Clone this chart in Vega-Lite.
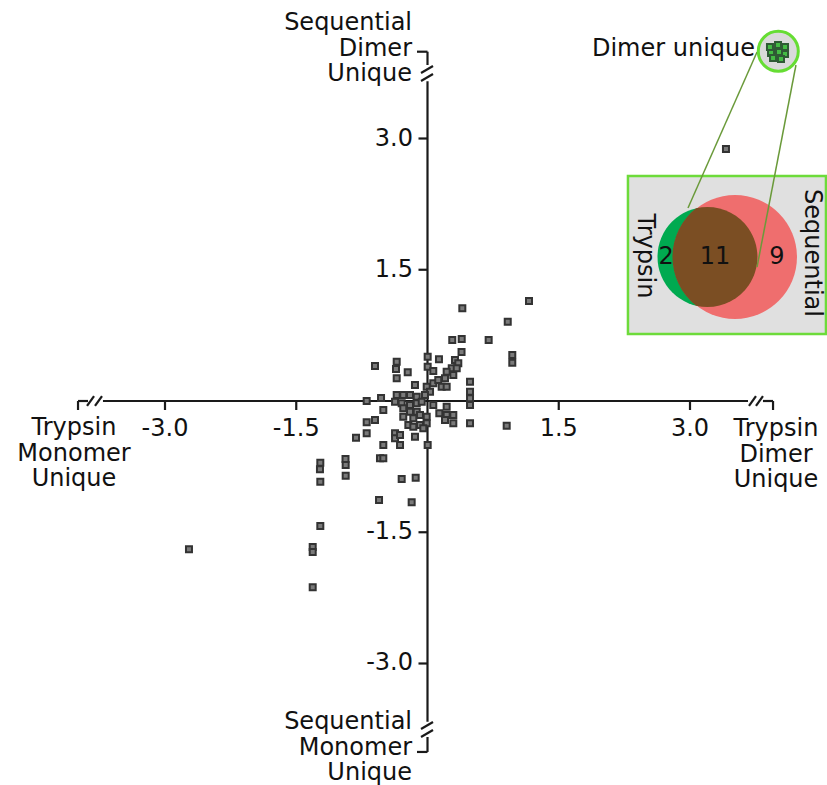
{
  "$schema": "https://vega.github.io/schema/vega-lite/v6.json",
  "width": 827,
  "height": 785,
  "padding": 0,
  "autosize": {"type": "none"},
  "config": {"view": {"stroke": null}, "font": "DejaVu Sans"},
  "datasets": {
    "axes": [
      {"x": -3.709, "y": 0, "x2": 3.663, "y2": 0},
      {"x": -3.994, "y": 0, "x2": -3.88, "y2": 0},
      {"x": -3.994, "y": 0, "x2": -3.994, "y2": -0.103},
      {"x": -3.891, "y": -0.057, "x2": -3.811, "y2": 0.057},
      {"x": -3.8, "y": -0.057, "x2": -3.72, "y2": 0.057},
      {"x": 3.674, "y": -0.057, "x2": 3.754, "y2": 0.057},
      {"x": 3.754, "y": -0.057, "x2": 3.834, "y2": 0.057},
      {"x": 3.834, "y": 0, "x2": 3.949, "y2": 0},
      {"x": 3.949, "y": 0, "x2": 3.949, "y2": -0.103},
      {"x": 0, "y": 3.655, "x2": 0, "y2": -3.665},
      {"x": 0, "y": 3.84, "x2": 0, "y2": 3.992},
      {"x": -0.12, "y": 3.992, "x2": 0, "y2": 3.992},
      {"x": -0.074, "y": 3.749, "x2": 0.063, "y2": 3.829},
      {"x": -0.074, "y": 3.657, "x2": 0.063, "y2": 3.737},
      {"x": -0.074, "y": -3.749, "x2": 0.063, "y2": -3.669},
      {"x": -0.074, "y": -3.84, "x2": 0.063, "y2": -3.76},
      {"x": 0, "y": -3.84, "x2": 0, "y2": -4.011},
      {"x": -0.12, "y": -4.011, "x2": 0, "y2": -4.011},
      {"x": -3, "y": 0, "x2": -3, "y2": -0.103},
      {"x": -1.5, "y": 0, "x2": -1.5, "y2": -0.103},
      {"x": 1.5, "y": 0, "x2": 1.5, "y2": -0.103},
      {"x": 3, "y": 0, "x2": 3, "y2": -0.103},
      {"x": -0.103, "y": 3, "x2": 0, "y2": 3},
      {"x": -0.103, "y": 1.5, "x2": 0, "y2": 1.5},
      {"x": -0.103, "y": -1.5, "x2": 0, "y2": -1.5},
      {"x": -0.103, "y": -3, "x2": 0, "y2": -3}
    ],
    "pts": [
      {"x": 0.398, "y": 1.059}, {"x": 1.16, "y": 1.143}, {"x": 0.917, "y": 0.906},
      {"x": 0.283, "y": 0.697}, {"x": 0.391, "y": 0.709}, {"x": 0.699, "y": 0.697},
      {"x": 0.389, "y": 0.56}, {"x": 0.969, "y": 0.526}, {"x": 0.969, "y": 0.438},
      {"x": -0.6, "y": 0.4}, {"x": -0.695, "y": 0}, {"x": -0.531, "y": 0.034},
      {"x": -0.505, "y": -0.103}, {"x": -0.695, "y": -0.243}, {"x": -0.6, "y": -0.217},
      {"x": -0.817, "y": -0.419}, {"x": -0.695, "y": -0.369}, {"x": -0.505, "y": -0.503},
      {"x": 0.905, "y": -0.282}, {"x": -0.937, "y": -0.663}, {"x": -0.935, "y": -0.731},
      {"x": -0.935, "y": -0.854}, {"x": -0.543, "y": -0.655}, {"x": -0.505, "y": -0.655},
      {"x": -2.726, "y": -1.695}, {"x": -1.312, "y": -1.669}, {"x": -1.312, "y": -1.726},
      {"x": -1.312, "y": -2.129}, {"x": -1.225, "y": -1.429}, {"x": -1.225, "y": -0.705},
      {"x": -1.229, "y": -0.781}, {"x": -1.225, "y": -0.922}, {"x": -0.295, "y": -0.891},
      {"x": -0.135, "y": -0.877}, {"x": -0.554, "y": -1.131}, {"x": -0.181, "y": -1.158},
      {"x": 3.411, "y": 2.88},
      {"x": 0.002, "y": 0.506}, {"x": 0.131, "y": 0.477}, {"x": 0.314, "y": 0.469},
      {"x": 0.352, "y": 0.431}, {"x": 0.277, "y": 0.374}, {"x": 0.334, "y": 0.374},
      {"x": -0.352, "y": 0.449}, {"x": -0.36, "y": 0.366}, {"x": -0.352, "y": 0.259},
      {"x": 0.002, "y": 0.392}, {"x": 0.066, "y": 0.343}, {"x": -0.226, "y": 0.328},
      {"x": 0.219, "y": 0.335}, {"x": 0.295, "y": 0.297}, {"x": 0.2, "y": 0.259},
      {"x": 0.486, "y": 0.221}, {"x": -0.143, "y": 0.183}, {"x": -0.009, "y": 0.163},
      {"x": 0.066, "y": 0.202}, {"x": 0.123, "y": 0.24}, {"x": 0.162, "y": 0.163},
      {"x": 0.219, "y": 0.163}, {"x": 0.029, "y": 0.106}, {"x": -0.029, "y": 0.069},
      {"x": 0.486, "y": 0.106}, {"x": 0.486, "y": 0.031}, {"x": 0.486, "y": -0.046},
      {"x": -0.352, "y": 0.069}, {"x": -0.277, "y": 0.069}, {"x": -0.2, "y": 0.069},
      {"x": -0.123, "y": 0.049}, {"x": -0.371, "y": -0.008}, {"x": -0.295, "y": -0.026},
      {"x": -0.2, "y": -0.046}, {"x": -0.123, "y": -0.026}, {"x": -0.066, "y": -0.008},
      {"x": -0.277, "y": -0.083}, {"x": -0.2, "y": -0.122}, {"x": -0.123, "y": -0.122},
      {"x": 0.066, "y": -0.046}, {"x": 0.219, "y": -0.065}, {"x": -0.277, "y": -0.179},
      {"x": -0.162, "y": -0.198}, {"x": -0.086, "y": -0.16}, {"x": -0.219, "y": -0.274},
      {"x": -0.162, "y": -0.294}, {"x": -0.009, "y": -0.179}, {"x": -0.009, "y": -0.255},
      {"x": 0.135, "y": -0.141}, {"x": 0.219, "y": -0.16}, {"x": 0.295, "y": -0.16},
      {"x": 0.2, "y": -0.217}, {"x": 0.295, "y": -0.255}, {"x": 0.486, "y": -0.255},
      {"x": -0.086, "y": -0.274}, {"x": -0.048, "y": -0.312}, {"x": -0.371, "y": -0.369},
      {"x": -0.371, "y": -0.426}, {"x": -0.314, "y": -0.389}, {"x": -0.314, "y": -0.503},
      {"x": -0.143, "y": -0.408}, {"x": 0.002, "y": -0.503}
    ],
    "rightText": [
      {"x": -0.177, "y": 4.32, "t": "Sequential\nDimer\nUnique"},
      {"x": -0.166, "y": 3, "t": "3.0"},
      {"x": -0.166, "y": 1.5, "t": "1.5"},
      {"x": -0.166, "y": -1.5, "t": "-1.5"},
      {"x": -0.166, "y": -3, "t": "-3.0"},
      {"x": -0.177, "y": -3.669, "t": "Sequential\nMonomer\nUnique"},
      {"x": 3.743, "y": 4.023, "t": "Dimer unique"}
    ],
    "centerText": [
      {"x": -3, "y": -0.32, "t": "-3.0"},
      {"x": -1.5, "y": -0.32, "t": "-1.5"},
      {"x": 1.5, "y": -0.32, "t": "1.5"},
      {"x": 3, "y": -0.32, "t": "3.0"},
      {"x": -4.04, "y": -0.309, "t": "Trypsin\nMonomer\nUnique"},
      {"x": 3.983, "y": -0.32, "t": "Trypsin\nDimer\nUnique"}
    ],
    "vennNums": [
      {"x": 2.726, "y": 1.646, "t": "2"},
      {"x": 3.286, "y": 1.646, "t": "11"},
      {"x": 3.994, "y": 1.646, "t": "9"}
    ],
    "vennLabels": [
      {"x": 2.486, "y": 1.657, "t": "Trypsin"},
      {"x": 4.394, "y": 1.691, "t": "Sequential"}
    ],
    "box": [{"x": 2.291, "x2": 4.554, "y": 2.571, "y2": 0.766}],
    "green": [{"x": 3.2, "y": 1.646}],
    "red": [{"x": 3.514, "y": 1.646}],
    "links": [
      {"x": 3.766, "y": 3.989, "x2": 2.977, "y2": 2.206},
      {"x": 4.211, "y": 3.84, "x2": 3.766, "y2": 1.531}
    ],
    "dimerCircle": [{"x": 4.009, "y": 3.997}],
    "dimerPts": [
      {"x": 3.914, "y": 4.046}, {"x": 4.006, "y": 4.069}, {"x": 4.086, "y": 4.046},
      {"x": 3.926, "y": 3.977}, {"x": 4.017, "y": 3.989}, {"x": 4.086, "y": 3.966},
      {"x": 3.949, "y": 3.92}, {"x": 4.04, "y": 3.909}
    ]
  },
  "encoding": {
    "x": {"field": "x", "type": "quantitative", "scale": {"domain": [-4.8857, 4.5657], "nice": false, "zero": false}, "axis": null},
    "y": {"field": "y", "type": "quantitative", "scale": {"domain": [-4.3886, 4.5829], "nice": false, "zero": false}, "axis": null}
  },
  "layer": [
    {
      "data": {"name": "axes"},
      "mark": {"type": "rule", "color": "#1a1a1a", "strokeWidth": 2.2},
      "encoding": {"x2": {"field": "x2"}, "y2": {"field": "y2"}}
    },
    {
      "data": {"name": "pts"},
      "mark": {"type": "square", "size": 36, "fill": "#7a7a7a", "stroke": "#333333", "strokeWidth": 2, "opacity": 1}
    },
    {
      "data": {"name": "rightText"},
      "mark": {"type": "text", "align": "right", "baseline": "middle", "fontSize": 24, "lineBreak": "\n", "lineHeight": 25.5, "color": "#111111"},
      "encoding": {"text": {"field": "t"}}
    },
    {
      "data": {"name": "centerText"},
      "mark": {"type": "text", "align": "center", "baseline": "middle", "fontSize": 24, "lineBreak": "\n", "lineHeight": 25.5, "color": "#111111"},
      "encoding": {"text": {"field": "t"}}
    },
    {
      "data": {"name": "box"},
      "mark": {"type": "rect", "fill": "#e0e0e0", "stroke": "#6ddb3a", "strokeWidth": 2.5},
      "encoding": {"x2": {"field": "x2"}, "y2": {"field": "y2"}}
    },
    {
      "data": {"name": "green"},
      "mark": {"type": "point", "shape": "circle", "filled": true, "size": 10000, "fill": "#00aa50", "opacity": 1, "strokeWidth": 0}
    },
    {
      "data": {"name": "red"},
      "mark": {"type": "point", "shape": "circle", "filled": true, "size": 15376, "fill": "#ef6e6e", "opacity": 1, "strokeWidth": 0}
    },
    {
      "data": {"name": "green"},
      "mark": {"type": "point", "shape": "M -11.4 -48.7 A 62 62 0 0 0 -11.4 48.7 A 50 50 0 1 0 -11.4 -48.7 Z", "filled": true, "size": 4, "fill": "#7b4e23", "opacity": 1, "strokeWidth": 0}
    },
    {
      "data": {"name": "vennNums"},
      "mark": {"type": "text", "align": "center", "baseline": "middle", "fontSize": 24, "color": "#111111"},
      "encoding": {"text": {"field": "t"}}
    },
    {
      "data": {"name": "vennLabels"},
      "mark": {"type": "text", "align": "center", "baseline": "middle", "fontSize": 24, "angle": 90, "color": "#111111"},
      "encoding": {"text": {"field": "t"}}
    },
    {
      "data": {"name": "links"},
      "mark": {"type": "rule", "color": "#6a9a3a", "strokeWidth": 1.5},
      "encoding": {"x2": {"field": "x2"}, "y2": {"field": "y2"}}
    },
    {
      "data": {"name": "dimerCircle"},
      "mark": {"type": "point", "shape": "circle", "filled": true, "size": 1600, "fill": "#dadada", "stroke": "#66dd33", "strokeWidth": 3, "opacity": 1}
    },
    {
      "data": {"name": "dimerPts"},
      "mark": {"type": "square", "size": 36, "fill": "#44bb44", "stroke": "#2f5a35", "strokeWidth": 2, "opacity": 1}
    }
  ]
}
